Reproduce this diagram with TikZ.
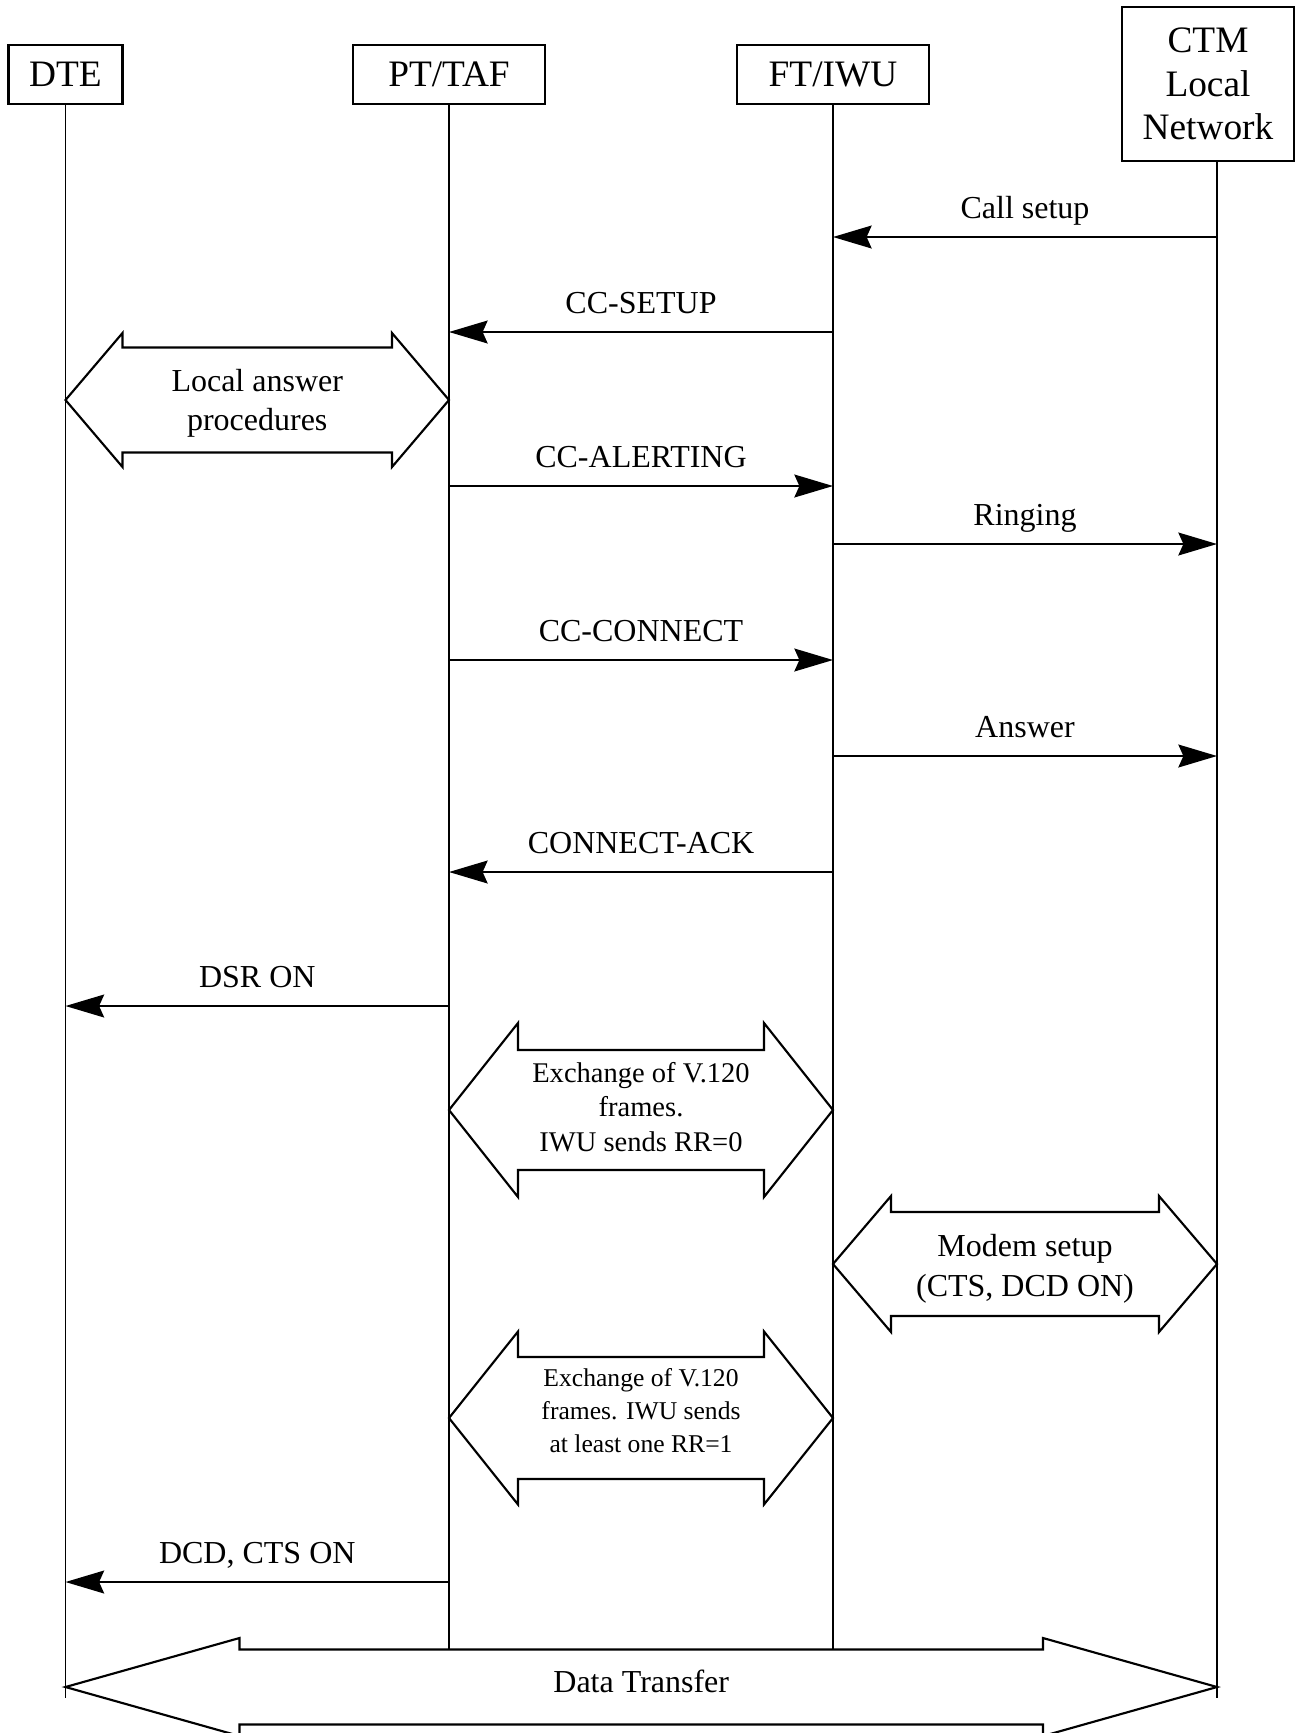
\documentclass[tikz,border=0pt]{standalone}
\usepackage{fontspec}
\setmainfont{Liberation Serif}
\usetikzlibrary{arrows.meta,calc}

\tikzset{
  hdr/.style = {draw, line width=0.8pt, inner sep=0pt, align=center,
                font=\fontsize{14}{16.4}\selectfont},
  life/.style = {line width=0.65pt},
  msg/.style = {line width=0.65pt, -{Stealth[length=14.5pt,width=8.6pt,inset=1.9pt]}},
  lbl/.style = {midway, anchor=base, yshift=7pt, inner sep=0pt},
  fat/.style = {draw, line width=0.8pt, fill=white, line join=miter},
  fattext/.style = {align=center, inner sep=0pt}
}

% block arrow with two heads: tips #1 and #2, head length #3,
% half width of the heads #4, half width of the shaft #5
\newcommand{\blockarrow}[5]{%
  \draw[fat] (#1) -- ++(#3,#4) -- ++(0,#5-#4) -- ($(#2)+(-#3,#5)$)
    -- ++(0,#4-#5) -- (#2) -- ++(-#3,-#4) -- ++(0,#4-#5)
    -- ($(#1)+(#3,-#5)$) -- ++(0,#5-#4) -- cycle;}

\begin{document}
\begin{tikzpicture}[x=0.375pt, y=-0.375pt, font=\fontsize{12}{14.5}\selectfont]
\useasboundingbox (0,0) rectangle (1299,1733);

% entities
\node[hdr, minimum width=42.75pt, minimum height=22pt] (dte) at (65.5,74.5) {DTE};
\node[hdr, minimum width=72pt, minimum height=22pt] (pt) at (449,74.5) {PT/TAF};
\node[hdr, minimum width=72pt, minimum height=22pt] (ft) at (833,74.5) {FT/IWU};
\node[hdr, minimum width=64.5pt, minimum height=57.75pt] (ctm) at (1208,84) {CTM\\Local\\Network};

% lifelines
\coordinate (ctmTop) at (1217,161);
\coordinate (dteEnd) at (65.5,1698);
\coordinate (ptEnd) at (449,1650);
\coordinate (ftEnd) at (833,1650);
\coordinate (ctmEnd) at (1217,1698);
\draw[life] (dte.south) -- (dteEnd);
\draw[life] (pt.south) -- (ptEnd);
\draw[life] (ft.south) -- (ftEnd);
\draw[life] (ctmTop) -- (ctmEnd);

% messages
\coordinate (callsetup) at (0,237);
\coordinate (setup) at (0,332);
\coordinate (alerting) at (0,486);
\coordinate (ringing) at (0,544);
\coordinate (connect) at (0,660);
\coordinate (answer) at (0,756);
\coordinate (connack) at (0,872);
\coordinate (dsr) at (0,1006);
\coordinate (dcd) at (0,1582);

\draw[msg] (ctmTop |- callsetup) -- node[lbl]{Call setup} (ft |- callsetup);
\draw[msg] (ft |- setup) -- node[lbl]{CC-SETUP} (pt |- setup);
\draw[msg] (pt |- alerting) -- node[lbl]{CC-ALERTING} (ft |- alerting);
\draw[msg] (ft |- ringing) -- node[lbl]{Ringing} (ctmTop |- ringing);
\draw[msg] (pt |- connect) -- node[lbl]{CC-CONNECT} (ft |- connect);
\draw[msg] (ft |- answer) -- node[lbl]{Answer} (ctmTop |- answer);
\draw[msg] (ft |- connack) -- node[lbl]{CONNECT-ACK} (pt |- connack);
\draw[msg] (pt |- dsr) -- node[lbl]{DSR ON} (dte |- dsr);
\draw[msg] (pt |- dcd) -- node[lbl]{DCD, CTS ON} (dte |- dcd);

% procedures
\coordinate (localL) at (65.5,400);
\coordinate (localR) at (449,400);
\blockarrow{localL}{localR}{57}{67}{52.5}
\node[fattext] (local) at ($(localL)!0.5!(localR)+(0,3)$) {Local answer\\procedures};

\coordinate (xchgL) at (449,1110);
\coordinate (xchgR) at (833,1110);
\blockarrow{xchgL}{xchgR}{69}{87}{60}
\node[fattext, font=\fontsize{10.7}{13}\selectfont] (xchg) at ($(xchgL)!0.5!(xchgR)+(0,-3)$)
  {Exchange of V.120\\frames.\\IWU sends RR=0};

\coordinate (modemL) at (833,1264);
\coordinate (modemR) at (1217,1264);
\blockarrow{modemL}{modemR}{58}{68}{52}
\node[fattext, font=\fontsize{12}{14.9}\selectfont] (modem) at ($(modemL)!0.5!(modemR)+(0,5)$)
  {Modem setup\\(CTS, DCD ON)};

\coordinate (xchgbL) at (449,1418);
\coordinate (xchgbR) at (833,1418);
\blockarrow{xchgbL}{xchgbR}{69}{86.5}{61}
\node[fattext, font=\fontsize{9.6}{12.4}\selectfont] (xchgb) at ($(xchgbL)!0.5!(xchgbR)+(0,-7)$)
  {Exchange of V.120\\frames. IWU sends\\at least one RR=1};

\coordinate (dataL) at (65.5,1687);
\coordinate (dataR) at (1217,1687);
\blockarrow{dataL}{dataR}{174}{49}{37.5}
\node[fattext] (data) at ($(dataL)!0.5!(dataR)+(0,-6)$) {Data Transfer};
\end{tikzpicture}
\end{document}
